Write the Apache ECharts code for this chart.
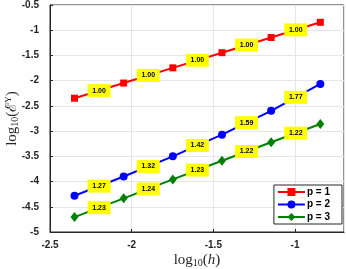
<!DOCTYPE html>
<html><head><meta charset="utf-8">
<script src="https://cdn.jsdelivr.net/npm/echarts@6/dist/echarts.min.js"></script>
<style>html,body{margin:0;padding:0;background:#fff}#c{width:346px;height:269px}</style>
</head><body><div id="c"></div>
<script>
const logH = [-2.350, -2.049, -1.748, -1.447, -1.146, -0.845];
const errP1 = [-2.348, -2.047, -1.746, -1.445, -1.144, -0.843];
const errP2 = [-4.282, -3.900, -3.500, -3.070, -2.597, -2.064];
const errP3 = [-4.705, -4.333, -3.957, -3.588, -3.222, -2.860];
const rateP1 = ['1.00', '1.00', '1.00', '1.00', '1.00'];
const rateP2 = ['1.27', '1.32', '1.42', '1.59', '1.77'];
const rateP3 = ['1.23', '1.24', '1.23', '1.22', '1.22'];
const seriesNames = ['p = 1', 'p = 2', 'p = 3'];
const xTicks = {min: -2.5, max: -0.7, step: 0.5};
const yTicks = {min: -5, max: -0.5, step: 0.5};

const colors = ['#ff0000', '#0000ff', '#008000'];
const symbols = ['rect', 'circle', 'diamond'];
const symSizes = [7, 8, [8, 10]];
const errs = [errP1, errP2, errP3];
const rates = [rateP1, rateP2, rateP3];

const series = [];
errs.forEach((e, i) => {
  series.push({
    name: seriesNames[i], type: 'line', data: logH.map((x, j) => [x, e[j]]),
    symbol: symbols[i], symbolSize: symSizes[i], showAllSymbol: true,
    lineStyle: {color: colors[i], width: 2}, itemStyle: {color: colors[i]},
    z: 2
  });
});
errs.forEach((e, i) => {
  series.push({
    name: 'rate' + i, type: 'scatter',
    data: logH.slice(0, -1).map((x, j) => ({value: [(x + logH[j + 1]) / 2, (e[j] + e[j + 1]) / 2], r: rates[i][j]})),
    symbol: 'rect', symbolSize: [23, 13], itemStyle: {color: '#ffff00', opacity: 1},
    label: {show: true, position: 'inside', formatter: p => p.data.r, color: '#000', fontSize: 7, fontWeight: 'bold', fontFamily: 'Liberation Sans'},
    z: 5, silent: true
  });
});

const chart = echarts.init(document.getElementById('c'), null, {renderer: 'canvas'});
chart.setOption({
  animation: false,
  grid: {left: 50, right: 2, top: 5, bottom: 37, outerBoundsMode: 'none', containLabel: false, show: true, borderColor: '#262626', borderWidth: 1, backgroundColor: 'transparent'},
  xAxis: {
    type: 'value', min: xTicks.min, max: xTicks.max, interval: xTicks.step,
    axisLine: {show: true, lineStyle: {color: '#262626'}},
    axisTick: {show: true, inside: true, length: 3, lineStyle: {color: '#262626'}},
    axisLabel: {showMaxLabel: false, color: '#262626', fontSize: 10, fontWeight: 'bold', fontFamily: 'Liberation Sans', margin: 8},
    splitLine: {show: true, lineStyle: {color: '#e6e6e6'}},
    name: '{a|log}{s|10}{a|(}{i|h}{a|)}', nameLocation: 'middle', nameGap: 20, nameMoveOverlap: false,
    nameTextStyle: {rich: {
      a: {fontFamily: 'Liberation Serif', fontSize: 15, color: '#262626'},
      i: {fontFamily: 'Liberation Serif', fontStyle: 'italic', fontSize: 15, color: '#262626'},
      s: {fontFamily: 'Liberation Serif', fontSize: 10, color: '#262626', verticalAlign: 'bottom', padding: [6, 0, 0, 0]}
    }}
  },
  yAxis: {
    type: 'value', min: yTicks.min, max: yTicks.max, interval: yTicks.step,
    axisLine: {show: true, lineStyle: {color: '#262626'}},
    axisTick: {show: true, inside: true, length: 3, lineStyle: {color: '#262626'}},
    axisLabel: {color: '#262626', fontSize: 10, fontWeight: 'bold', fontFamily: 'Liberation Sans', margin: 11},
    splitLine: {show: true, lineStyle: {color: '#e6e6e6'}},
    name: '{a|log}{s|10}{a|(ℰ}{p|Y}{a|)}', nameLocation: 'middle', nameGap: 29, nameRotate: 90, nameMoveOverlap: false,
    nameTextStyle: {rich: {
      a: {fontFamily: 'Liberation Serif', fontSize: 15, color: '#262626'},
      s: {fontFamily: 'Liberation Serif', fontSize: 10, color: '#262626', padding: [6, 0, 0, 0]},
      p: {fontFamily: 'Liberation Serif', fontSize: 9, color: '#262626', padding: [0, 0, 8, 0]}
    }}
  },
  legend: {
    data: seriesNames, orient: 'vertical', right: 4, bottom: 45,
    backgroundColor: '#fff', borderColor: '#262626', borderWidth: 1, padding: [2, 12, 2, 3],
    itemWidth: 27, itemHeight: 10, itemGap: 2.5,
    textStyle: {fontSize: 10, fontWeight: 'bold', fontFamily: 'Liberation Sans', color: '#000', padding: [0, 0, 0, -3]}
  },
  series: series
});
</script></body></html>
